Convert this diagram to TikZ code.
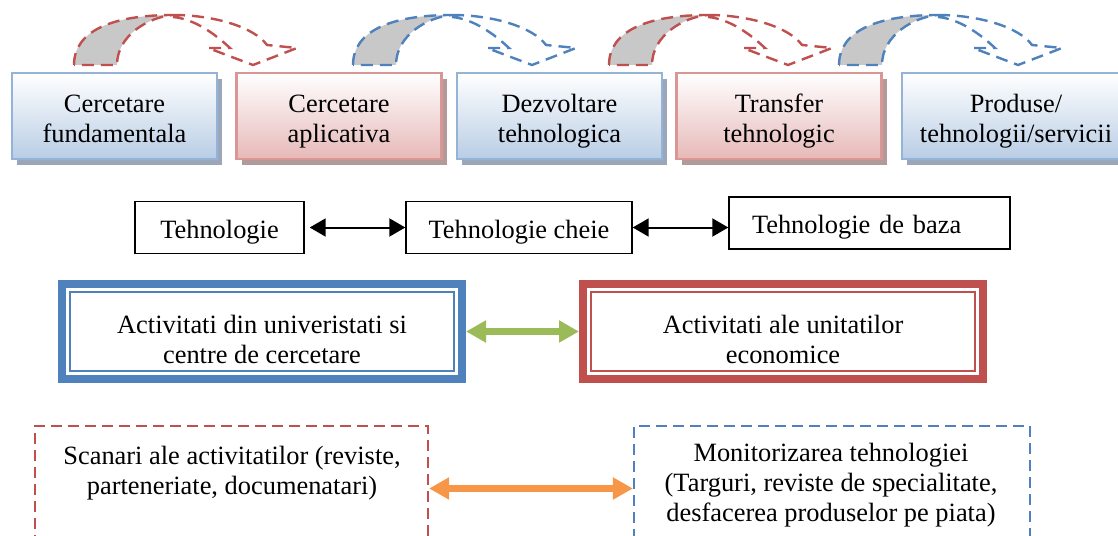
\documentclass[tikz,border=0pt]{standalone}
\usepackage{fontspec}
\setmainfont{Liberation Serif}
\usetikzlibrary{arrows.meta, shapes, positioning, shadows, calc}
\definecolor{accblue}{HTML}{4F81BD}
\definecolor{accred}{HTML}{C0504D}
\definecolor{accgreen}{HTML}{9BBB59}
\definecolor{accorange}{HTML}{F79646}
\definecolor{lineblue}{HTML}{95B3D7}
\definecolor{linered}{HTML}{D99694}
\definecolor{fillblue}{HTML}{B9CDE5}
\definecolor{fillred}{HTML}{E6B9B8}
\definecolor{shadeblue}{HTML}{9AA7BA}
\definecolor{shadered}{HTML}{B39A9A}
\definecolor{backgrey}{HTML}{C8C8C8}
\newcommand{\stagearrow}[2]
{
	\begin{scope}[shift={(#1,65)}, color=#2, line width=1.2pt, dash pattern=on 6pt off 3.5pt]
	\draw[fill=backgrey] (0,0) .. controls (0,-35) and (40,-50) .. (99,-50) .. controls (75,-48) and (43,-30) .. (43,0) -- cycle;
	\draw (99,-50) .. controls (140,-50) and (180,-38) .. (193,-20) -- (223,-17) -- (179,0) -- (134,-17) -- (156,-17) .. controls (140,-32) and (120,-46) .. (99,-48);
	\end{scope}
}

\begin{document}
\begin{tikzpicture}[x=0.5pt, y=-0.5pt,
	every node/.append style={font=\fontsize{13.2}{15}\selectfont, align=center,
		execute at begin node=\strut, execute at end node=\strut},
	stage/.style={rectangle, line width=1.1pt, minimum width=102.5pt, minimum height=43pt, text height=30.5pt},
	stageblue/.style={stage, draw=lineblue, top color=white, bottom color=fillblue,
		drop shadow={shadow xshift=2.5pt, shadow yshift=-3pt, fill=shadeblue, opacity=1}},
	stagered/.style={stage, draw=linered, top color=white, bottom color=fillred,
		drop shadow={shadow xshift=2.5pt, shadow yshift=-3pt, fill=shadered, opacity=1}},
	techbox/.style={rectangle, draw=black, line width=0.7pt, minimum height=24.5pt, text height=15pt, text depth=4.5pt},
	actbox/.style={rectangle, fill=white, line width=4pt, minimum width=200pt, minimum height=46.5pt, text height=36pt},
	scanbox/.style={rectangle, line width=1.1pt, dash pattern=on 5.5pt off 3pt, minimum height=62.5pt},
	blackarrow/.style={{Triangle[length=8pt,width=9pt]}-{Triangle[length=8pt,width=9pt]}, line width=1pt},
	fatarrow/.style={{Triangle[length=10pt,width=10.5pt]}-{Triangle[length=10pt,width=10.5pt]}, line width=3.5pt}]
	\useasboundingbox (0,0) rectangle (1118,535);

	% stages
	\stagearrow{74}{accred}
	\stagearrow{353}{accblue}
	\stagearrow{609}{accred}
	\stagearrow{839}{accblue}
	\node[stageblue] (fund) at (114.5,116) {Cercetare\\fundamentala};
	\node[stagered] (apl) at (339,116) {Cercetare\\aplicativa};
	\node[stageblue] (dezv) at (559.5,116) {Dezvoltare\\tehnologica};
	\node[stagered] (transf) at (779,116) {Transfer\\tehnologic};
	\node[stageblue, minimum width=114pt] (prod) at (1016,116) {Produse/\\tehnologii/servicii};

	% technologies
	\node[techbox, minimum width=84.5pt] (tech) at (219.5,227.5) {Tehnologie};
	\node[techbox, minimum width=113pt] (techkey) at (519,227.5) {Tehnologie cheie};
	\node[techbox, text width=117.5pt, inner xsep=11.5pt, align=left, minimum height=25pt] (techbase) at (869.5,223) {Tehnologie de baza};
	\draw[blackarrow, shorten <=2.5pt] (tech) -- (techkey);
	\draw[blackarrow] (techkey.east) -- (techkey.east -| techbase.west);

	% activities
	\node[actbox, draw=accblue] (univ) at (262,331.5) {Activitati din univeristati si\\centre de cercetare};
	\node[actbox, draw=accred] (econ) at (783,331.5) {Activitati ale unitatilor\\economice};
	\draw[accblue, line width=1pt] ($(univ.north west)+(12,12)$) rectangle ($(univ.south east)+(-12,-12)$);
	\draw[accred, line width=1pt] ($(econ.north west)+(12,12)$) rectangle ($(econ.south east)+(-12,-12)$);
	\draw[fatarrow, accgreen] (univ) -- (econ);

	% scanning and monitoring
	\node[scanbox, draw=accred, minimum width=196.5pt] (scan) at (231.5,488.5) {};
	\node[scanbox, draw=accblue, minimum width=198pt] (monit) at (832,488.5) {};
	\node (scantxt) at (232,475) {Scanari ale activitatilor (reviste,\\parteneriate, documenatari)};
	\node (montxt) at (831,487) {Monitorizarea tehnologiei\\(Targuri, reviste de specialitate,\\desfacerea produselor pe piata)};
	\draw[fatarrow, accorange] (scan) -- (monit);
\end{tikzpicture}
\end{document}
